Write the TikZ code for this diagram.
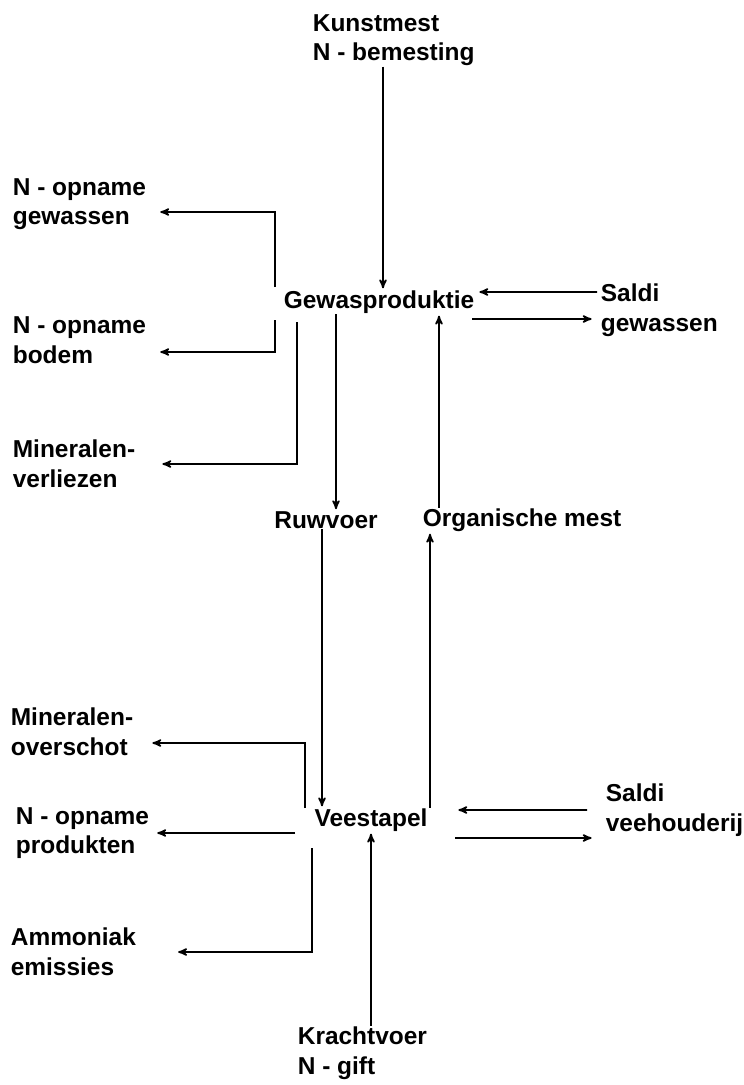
\documentclass[tikz,border=0pt]{standalone}
\usepackage{fontspec}
\setmainfont{Liberation Sans}
\usetikzlibrary{arrows}

\begin{document}
\begin{tikzpicture}[->, >=stealth', shorten >=1pt, line width=1.2pt,
		every node/.style={font=\fontsize{17.4}{21}\selectfont\bfseries, inner sep=0pt, align=left}]
		\useasboundingbox (0, 0) rectangle (18.6, -27.125);
		
		\node (gewas) at (9.475, -7.55) {Gewasproduktie};
		\node (veest) at (9.275, -20.5) {Veestapel};
		\node (ruw) at (8.15, -13) {Ruwvoer};
		\node[anchor=west] (orgm) at (10.55, -13) {Organische mest};
		
		\node[anchor=west] (kunst) at (7.8, -1) {Kunstmest\\N - bemesting};
		\node[anchor=west] (opgew) at (.3, -5.1) {N - opname\\gewassen};
		\node[anchor=west] (opbod) at (.3, -8.5) {N - opname\\bodem};
		\node[anchor=west] (minverl) at (.3, -11.6) {Mineralen-\\verliezen};
		\node[anchor=west] (saldig) at (15, -7.75) {Saldi\\gewassen};
		
		\node[anchor=west] (minov) at (.25, -18.3) {Mineralen-\\overschot};
		\node[anchor=west] (opprod) at (.375, -20.825) {N - opname\\produkten};
		\node[anchor=west] (ammon) at (.25, -23.8) {Ammoniak\\emissies};
		\node[anchor=west] (saldiv) at (15.125, -20.25) {Saldi\\veehouderij};
		\node[anchor=west] (kracht) at (7.425, -26.325) {Krachtvoer\\N - gift};
		
		% gewasproduktie
		\draw ([xshift=.1cm]kunst.south -| gewas.north) -- ([xshift=.1cm]gewas.north);
		\draw ([xshift=-2.6cm, yshift=.375cm]gewas.center) |- ([xshift=.3cm, yshift=-.2cm]opgew.east);
		\draw ([xshift=-2.6cm, yshift=-.45cm]gewas.center) |- ([xshift=.3cm, yshift=-.3cm]opbod.east);
		\draw ([xshift=-2.05cm, yshift=-.5cm]gewas.center) |- ([xshift=.625cm]minverl.east);
		\draw ([xshift=-.075cm, yshift=.45cm]saldig.west) -- ([xshift=2.475cm, yshift=.25cm]gewas.center);
		\draw ([xshift=2.325cm, yshift=-.425cm]gewas.center) -- ([xshift=-.175cm, yshift=-.225cm]saldig.west);
		\draw ([xshift=.25cm]ruw.north |- gewas.south) -- ([xshift=.25cm]ruw.north);
		\draw ([xshift=.425cm]orgm.north west) -- ([xshift=.425cm]orgm.north west |- gewas.south);
		
		% veestapel
		\draw ([xshift=-.1cm]ruw.south) -- ([xshift=-.1cm]ruw.south |- veest.north);
		\draw ([xshift=.2cm]orgm.south west |- veest.north) -- ([xshift=.2cm]orgm.south west);
		\draw ([xshift=-1.65cm, yshift=.3cm]veest.center) |- ([xshift=.425cm, yshift=-.275cm]minov.east);
		\draw ([xshift=-1.9cm, yshift=-.325cm]veest.center) -- ([xshift=.15cm]opprod.east);
		\draw ([xshift=-1.475cm, yshift=-.7cm]veest.center) |- ([xshift=1cm]ammon.east);
		\draw ([xshift=-.45cm]saldiv.west) -- ([xshift=2.15cm, yshift=.25cm]veest.center);
		\draw ([xshift=2.1cm, yshift=-.45cm]veest.center) -- ([xshift=-.3cm, yshift=-.7cm]saldiv.west);
		\draw (kracht.north -| veest.south) -- (veest.south);
	\end{tikzpicture}
\end{document}
